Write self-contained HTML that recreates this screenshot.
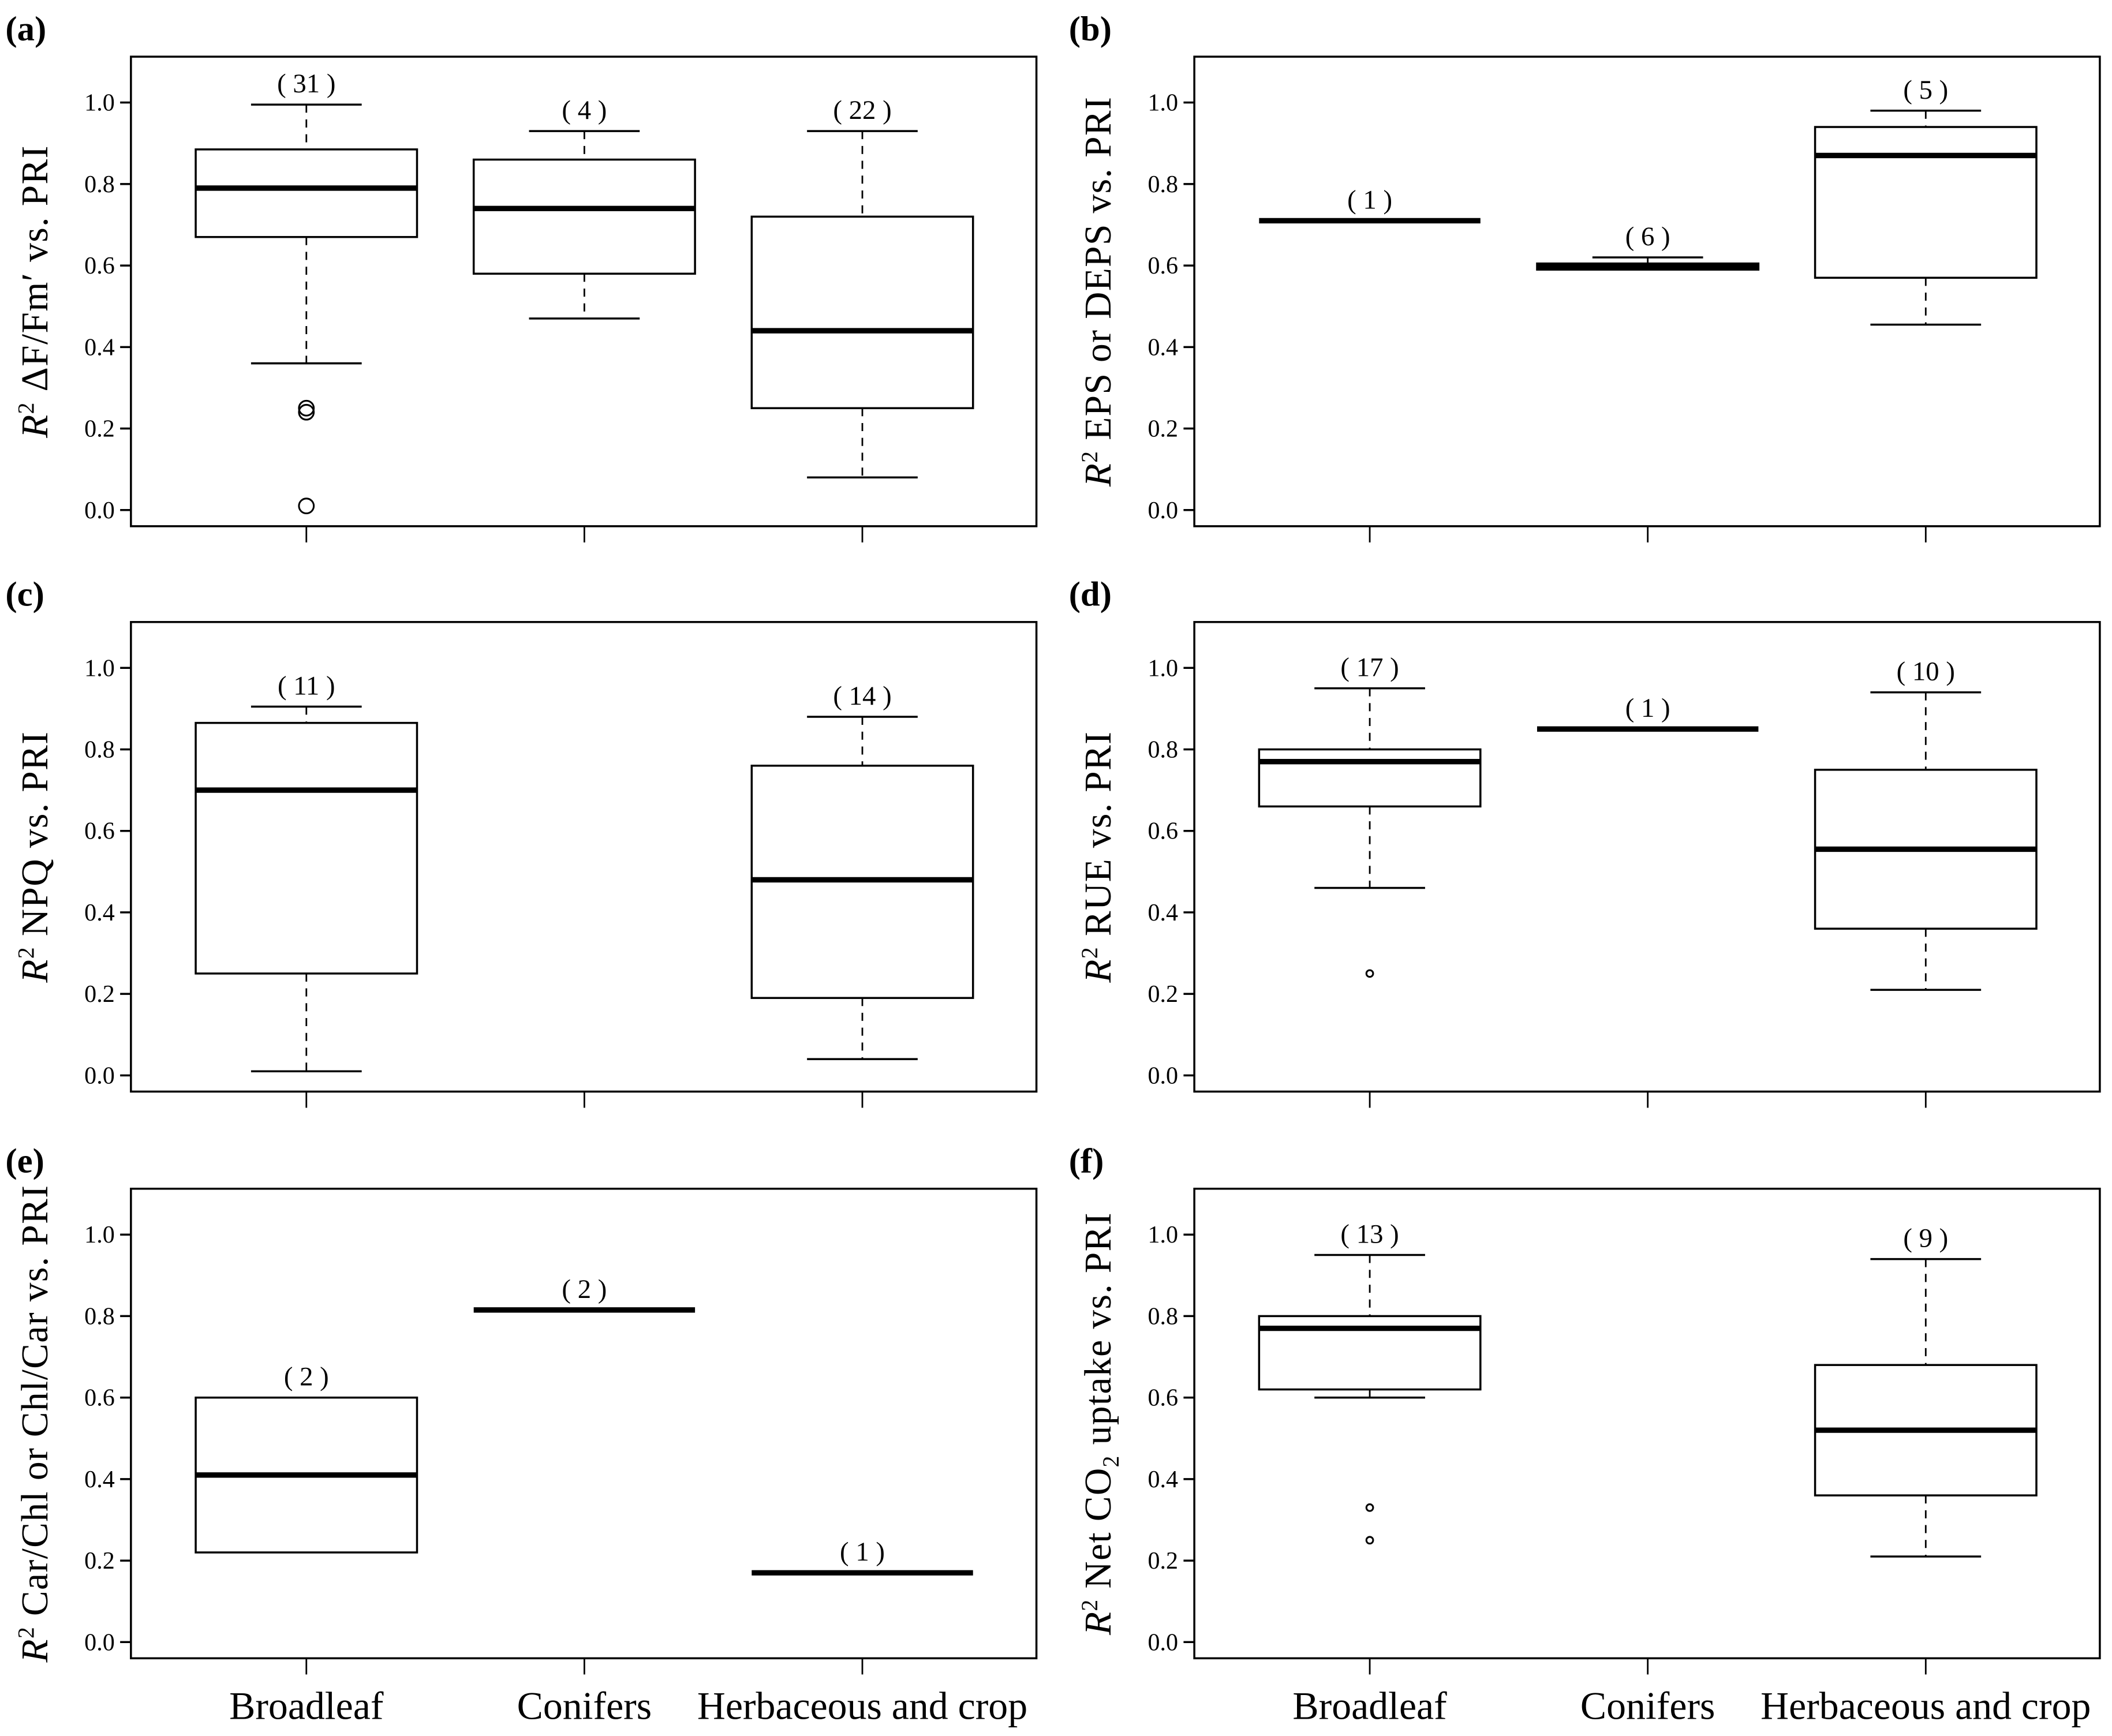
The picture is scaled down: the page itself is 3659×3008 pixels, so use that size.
<!DOCTYPE html>
<html><head><meta charset="utf-8"><style>
html,body{margin:0;padding:0;background:#fff;}
svg{display:block;}
</style></head><body>
<svg id="fig" xmlns="http://www.w3.org/2000/svg" width="3659" height="3008" viewBox="0 0 1565 1286.6" font-family="'Liberation Serif', serif"></svg>
<script>
const categories = ["Broadleaf", "Conifers", "Herbaceous and crop"];
const yTicks = [0.0, 0.2, 0.4, 0.6, 0.8, 1.0];
const yTickLabels = ["0.0", "0.2", "0.4", "0.6", "0.8", "1.0"];
const panelLetters = ["(a)", "(b)", "(c)", "(d)", "(e)", "(f)"];
// per panel, per category: [wmin, q1, median, q3, wmax] or null
const statsA = [[0.36,0.67,0.79,0.885,0.995],[0.47,0.58,0.74,0.86,0.93],[0.08,0.25,0.44,0.72,0.93]];
const statsB = [[0.71,0.71,0.71,0.71,0.71],[0.59,0.59,0.598,0.605,0.62],[0.455,0.57,0.87,0.94,0.98]];
const statsC = [[0.01,0.25,0.70,0.865,0.905],null,[0.04,0.19,0.48,0.76,0.88]];
const statsD = [[0.46,0.66,0.77,0.80,0.95],[0.85,0.85,0.85,0.85,0.85],[0.21,0.36,0.555,0.75,0.94]];
const statsE = [[0.22,0.22,0.41,0.60,0.60],[0.815,0.815,0.815,0.815,0.815],[0.17,0.17,0.17,0.17,0.17]];
const statsF = [[0.60,0.62,0.77,0.80,0.95],null,[0.21,0.36,0.52,0.68,0.94]];
const countsA = [31,4,22], countsB = [1,6,5], countsC = [11,null,14];
const countsD = [17,1,10], countsE = [2,2,1], countsF = [13,null,9];
const outliersA = [[0.25,0.24,0.01],[],[]];
const outliersB = [[],[],[]], outliersC = [[],[],[]];
const outliersD = [[0.25],[],[]], outliersE = [[],[],[]];
const outliersF = [[0.33,0.25],[],[]];

const NS = "http://www.w3.org/2000/svg";
const svg = document.getElementById("fig");
function mk(tag, attrs, parent){ const e=document.createElementNS(NS,tag); for(const k in attrs) e.setAttribute(k,attrs[k]); (parent||svg).appendChild(e); return e; }

const panels = [
 {stats:statsA,counts:countsA,outs:outliersA,ox:0,zero:378,title:["ΔF/Fm′ vs. PRI"],smallOut:false},
 {stats:statsB,counts:countsB,outs:outliersB,ox:788,zero:378,title:["EPS or DEPS vs. PRI"]},
 {stats:statsC,counts:countsC,outs:outliersC,ox:0,zero:797,title:["NPQ vs. PRI"]},
 {stats:statsD,counts:countsD,outs:outliersD,ox:788,zero:797,title:["RUE vs. PRI"],smallOut:true},
 {stats:statsE,counts:countsE,outs:outliersE,ox:0,zero:1217,title:["Car/Chl or Chl/Car vs. PRI"]},
 {stats:statsF,counts:countsF,outs:outliersF,ox:788,zero:1217,title:["CO2"],smallOut:true}
];
const unit = 302;

panels.forEach((p,pi)=>{
  const g = mk("g",{});
  
  
  const L = 97+p.ox, R = 768+p.ox, T = p.zero-336, B = p.zero+12;
  const y = v => p.zero - v*unit;
  const xc = i => L + 130 + i*206;
  const lt = mk("text",{x:4+p.ox,y:T-12,"font-size":26,"font-weight":"bold"},g);
  lt.textContent = panelLetters[pi];
  
  
  const fr = mk("rect",{x:L,y:T,width:R-L,height:B-T,fill:"none",stroke:"#000","stroke-width":1.5},g);
  
  
  yTicks.forEach((t,i)=>{
    const tk = mk("line",{x1:L-8,x2:L,y1:y(t),y2:y(t),stroke:"#000","stroke-width":1.5},g);
    
    
    const tl = mk("text",{x:L-12,y:y(t)+6,"font-size":18,"text-anchor":"end"},g);
    tl.textContent = yTickLabels[i];
    
    
  });
  categories.forEach((c,i)=>{
    const tk = mk("line",{x1:xc(i),x2:xc(i),y1:B,y2:B+12,stroke:"#000","stroke-width":1.2},g);
    
    
    if(pi>=4){
      const cl = mk("text",{x:xc(i),y:1274,"font-size":29,"text-anchor":"middle"},g);
      cl.textContent = c;
      
      
    }
  });
  const cx = p.ox+35, cy = (T+B)/2;
  const yt = mk("text",{x:cx,y:cy,"font-size":28,"letter-spacing":0.6,"text-anchor":"middle",transform:`rotate(-90 ${cx} ${cy})`},g);
  
  
  const r = mk("tspan",{"font-style":"italic"},yt); r.textContent="R";
  const s2 = mk("tspan",{"font-size":17,dy:-10},yt); s2.textContent="2";
  if(p.title[0]==="CO2"){
    const a = mk("tspan",{dy:10},yt); a.textContent=" Net CO";
    const b = mk("tspan",{"font-size":17,dy:6},yt); b.textContent="2";
    const c = mk("tspan",{dy:-6},yt); c.textContent=" uptake vs. PRI";
  } else {
    const a = mk("tspan",{dy:10},yt); a.textContent=" "+p.title[0];
  }
  p.stats.forEach((s,i)=>{
    if(!s) return;
    const bg = mk("g",{},g);
    
    
    const x = xc(i), hw = 82, cw = 41;
    const [lo,q1,md,q3,hi] = s;
    if(hi>q3){
      mk("line",{x1:x,x2:x,y1:y(hi),y2:y(q3),stroke:"#000","stroke-width":1.2,"stroke-dasharray":"6,5"},bg);
      mk("line",{x1:x-cw,x2:x+cw,y1:y(hi),y2:y(hi),stroke:"#000","stroke-width":1.5},bg);
    }
    if(lo<q1){
      mk("line",{x1:x,x2:x,y1:y(q1),y2:y(lo),stroke:"#000","stroke-width":1.2,"stroke-dasharray":"6,5"},bg);
      mk("line",{x1:x-cw,x2:x+cw,y1:y(lo),y2:y(lo),stroke:"#000","stroke-width":1.5},bg);
    }
    if(q3>q1) mk("rect",{x:x-hw,y:y(q3),width:2*hw,height:y(q1)-y(q3),fill:"#fff",stroke:"#000","stroke-width":1.5},bg);
    mk("line",{x1:x-hw,x2:x+hw,y1:y(md),y2:y(md),stroke:"#000","stroke-width":4},bg);
    p.outs[i].forEach(o=>{
      const c = mk("circle",{cx:x,cy:y(o),r:p.smallOut?2.5:5.5,fill:"none",stroke:"#000","stroke-width":1.3},bg);
      
      
    });
    const n = p.counts[i];
    if(n!==null){
      const ct = mk("text",{x:x,y:y(hi)-9,"font-size":20,"text-anchor":"middle"},g);
      ct.textContent = "( "+n+" )";
      
      
    }
  });
});
</script>
</body></html>
